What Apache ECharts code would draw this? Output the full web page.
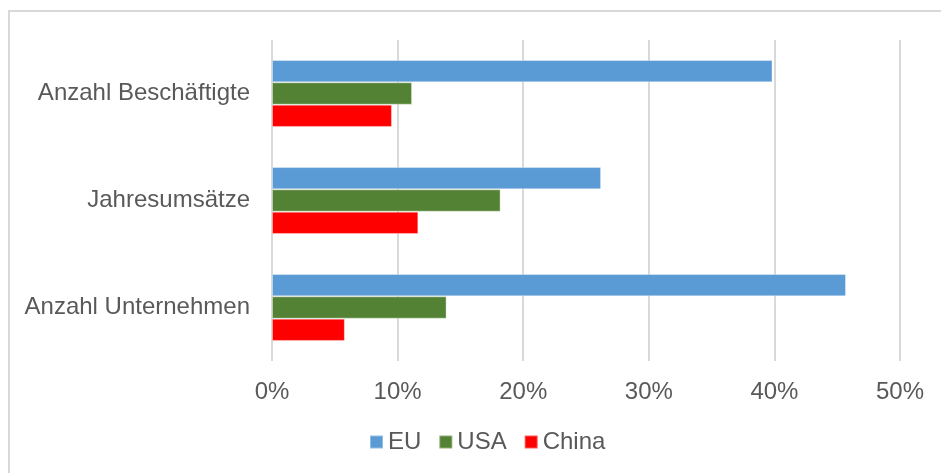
<!DOCTYPE html>
<html>
<head>
<meta charset="utf-8">
<script src="https://cdn.jsdelivr.net/npm/echarts@6/dist/echarts.min.js"></script>
<style>
html,body{margin:0;padding:0;background:#fff;}
#c{width:941px;height:473px;}
</style>
</head>
<body>
<div id="c"></div>
<script>
// categories bottom-to-top
var categories = ['Anzahl Unternehmen', 'Jahresumsätze', 'Anzahl Beschäftigte'];
var euValues = [45.7, 26.2, 39.85];
var usaValues = [13.9, 18.2, 11.15];
var chinaValues = [5.8, 11.65, 9.55];
var tickLabels = ['0%', '10%', '20%', '30%', '40%', '50%'];
var legendNames = ['EU', 'USA', 'China'];

var font = 'Liberation Sans, Arial, sans-serif';
var txt = '#595959';
var chart = echarts.init(document.getElementById('c'), null, {renderer: 'canvas'});

function barSeries(name, data, color) {
  return {
    name: name, type: 'bar', data: data,
    barGap: '0%', barCategoryGap: '37.5%',
    itemStyle: {color: color, borderColor: 'rgba(255,255,255,0.35)', borderWidth: 1},
    emphasis: {disabled: true}
  };
}

chart.setOption({
  animation: false,
  backgroundColor: '#fff',
  graphic: [{
    type: 'rect', shape: {x: 9, y: 11, width: 1000, height: 600},
    style: {fill: 'none', stroke: '#d9d9d9', lineWidth: 2}, silent: true, z: -1
  }],
  grid: {left: 272, right: 41, top: 40, bottom: 112, containLabel: false},
  legend: {
    data: legendNames, bottom: 14, left: 364,
    itemWidth: 13, itemHeight: 13, itemGap: 17, icon: 'rect',
    textStyle: {fontFamily: font, fontSize: 24, color: txt}
  },
  xAxis: {
    type: 'value', min: 0, max: 50, interval: 10,
    axisLabel: {
      fontFamily: font, fontSize: 24, color: txt, margin: 19,
      formatter: function (v) { return tickLabels[Math.round(v / 10)]; }
    },
    axisLine: {show: false}, axisTick: {show: false},
    splitLine: {show: true, lineStyle: {color: '#d9d9d9', width: 2}}
  },
  yAxis: {
    type: 'category', data: categories,
    axisLabel: {fontFamily: font, fontSize: 24, color: txt, margin: 22},
    axisLine: {show: false}, axisTick: {show: false}
  },
  series: [
    barSeries('EU', euValues, '#5b9bd5'),
    barSeries('USA', usaValues, '#548235'),
    barSeries('China', chinaValues, '#ff0000')
  ]
});
</script>
</body>
</html>
